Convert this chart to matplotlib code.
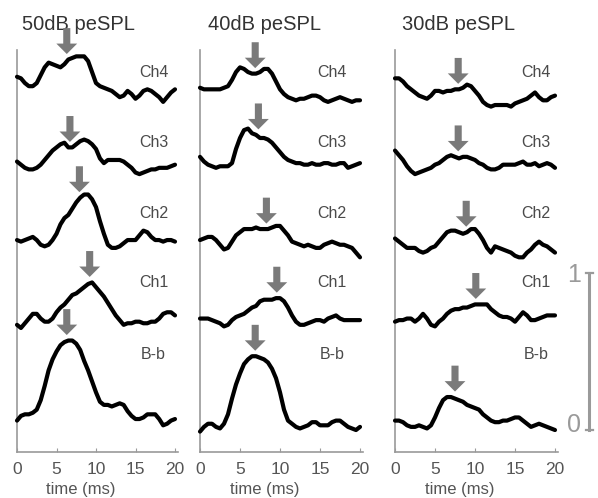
import numpy as np
import matplotlib
matplotlib.use("Agg")
import matplotlib.pyplot as plt

plt.rcParams['font.family'] = ['Liberation Sans', 'DejaVu Sans']

# ---------------- data ----------------
time_ms = np.arange(0, 20.5, 0.5)
panel_titles = ["50dB peSPL", "40dB peSPL", "30dB peSPL"]
channels = ["Ch4", "Ch3", "Ch2", "Ch1", "B-b"]
xticks = [0, 5, 10, 15, 20]
xlabel = "time (ms)"

# normalized amplitudes (scale bar = 1)
p50_ch4 = [0.05,0.04,0.01,-0.01,-0.01,0.01,0.06,0.11,0.14,0.13,0.12,0.11,0.13,0.16,0.17,0.18,0.18,0.18,0.15,0.08,0.01,-0.01,-0.02,-0.03,-0.04,-0.06,-0.08,-0.07,-0.04,-0.06,-0.09,-0.07,-0.04,-0.03,-0.04,-0.06,-0.08,-0.11,-0.08,-0.05,-0.03]
p50_ch3 = [-0.01,-0.03,-0.05,-0.06,-0.06,-0.05,-0.03,0.00,0.03,0.06,0.08,0.10,0.11,0.08,0.08,0.10,0.12,0.13,0.12,0.10,0.07,0.01,-0.02,0.00,0.00,0.00,0.00,-0.01,-0.03,-0.05,-0.08,-0.09,-0.08,-0.07,-0.06,-0.06,-0.05,-0.05,-0.05,-0.04,-0.03]
p50_ch2 = [0.00,-0.01,0.00,0.01,0.02,0.00,-0.03,-0.04,-0.03,0.00,0.04,0.10,0.14,0.16,0.20,0.24,0.27,0.29,0.29,0.26,0.21,0.12,0.04,-0.03,-0.05,-0.05,-0.04,-0.02,0.00,0.00,0.00,0.03,0.06,0.05,0.02,0.00,0.00,-0.01,0.00,0.00,-0.01]
p50_ch1 = [-0.02,-0.04,-0.01,0.02,0.05,0.05,0.02,0.00,0.00,0.02,0.06,0.09,0.11,0.14,0.17,0.18,0.20,0.22,0.24,0.25,0.22,0.19,0.16,0.12,0.08,0.04,0.01,-0.02,-0.01,-0.01,0.00,0.00,-0.01,-0.01,0.00,0.00,0.02,0.05,0.06,0.06,0.04]
p50_bb = [0.03,0.06,0.07,0.07,0.08,0.10,0.16,0.25,0.35,0.42,0.47,0.51,0.53,0.54,0.54,0.52,0.48,0.41,0.35,0.28,0.21,0.15,0.13,0.13,0.12,0.13,0.14,0.13,0.09,0.06,0.04,0.04,0.05,0.07,0.07,0.07,0.04,0.00,0.01,0.03,0.04]

p40_ch4 = [-0.02,-0.03,-0.03,-0.03,-0.03,-0.03,-0.02,-0.01,0.03,0.08,0.11,0.10,0.08,0.07,0.07,0.08,0.10,0.10,0.07,0.02,-0.03,-0.06,-0.08,-0.09,-0.10,-0.09,-0.09,-0.08,-0.07,-0.07,-0.08,-0.10,-0.11,-0.10,-0.09,-0.08,-0.09,-0.10,-0.11,-0.10,-0.10]
p40_ch3 = [0.02,-0.01,-0.03,-0.04,-0.05,-0.04,-0.04,-0.04,-0.02,0.07,0.14,0.19,0.20,0.17,0.16,0.14,0.14,0.13,0.11,0.08,0.05,0.02,0.00,-0.01,-0.02,-0.02,-0.03,-0.03,-0.02,-0.03,-0.03,-0.02,-0.02,-0.03,-0.03,-0.02,-0.02,-0.05,-0.04,-0.03,-0.02]
p40_ch2 = [0.00,0.01,0.02,0.02,0.00,-0.03,-0.06,-0.05,-0.01,0.03,0.05,0.07,0.07,0.07,0.08,0.07,0.07,0.07,0.08,0.09,0.09,0.06,0.03,-0.01,-0.02,-0.03,-0.04,-0.03,-0.04,-0.05,-0.05,-0.03,-0.02,-0.01,-0.02,-0.03,-0.03,-0.04,-0.05,-0.08,-0.11]
p40_ch1 = [0.02,0.02,0.02,0.01,0.00,-0.01,-0.03,-0.02,0.01,0.03,0.04,0.05,0.07,0.09,0.10,0.13,0.14,0.14,0.14,0.15,0.15,0.13,0.09,0.04,0.00,-0.02,-0.02,-0.01,0.00,0.01,0.01,0.00,0.02,0.03,0.04,0.02,0.01,0.01,0.01,0.01,0.01]
p40_bb = [-0.04,-0.01,0.01,0.01,-0.01,-0.02,0.01,0.07,0.17,0.26,0.33,0.39,0.42,0.44,0.44,0.43,0.42,0.40,0.36,0.30,0.21,0.10,0.03,0.01,-0.01,-0.02,-0.01,0.00,0.02,0.02,0.00,0.00,0.00,0.02,0.03,0.03,0.01,-0.01,-0.02,-0.03,-0.01]

p30_ch4 = [0.04,0.04,0.02,-0.01,-0.03,-0.05,-0.07,-0.08,-0.09,-0.07,-0.04,-0.04,-0.05,-0.04,-0.04,-0.03,-0.03,-0.02,0.00,-0.01,-0.04,-0.07,-0.11,-0.13,-0.14,-0.13,-0.13,-0.13,-0.13,-0.14,-0.12,-0.11,-0.10,-0.09,-0.07,-0.05,-0.08,-0.10,-0.10,-0.08,-0.07]
p30_ch3 = [0.06,0.03,0.00,-0.04,-0.07,-0.09,-0.08,-0.07,-0.06,-0.05,-0.03,-0.02,0.00,0.02,0.03,0.02,0.01,0.02,0.02,0.01,0.00,-0.02,-0.03,-0.05,-0.06,-0.06,-0.05,-0.03,-0.03,-0.03,-0.03,-0.02,-0.01,-0.03,-0.03,-0.02,-0.04,-0.03,-0.02,-0.03,-0.05]
p30_ch2 = [0.01,-0.01,-0.03,-0.05,-0.05,-0.05,-0.07,-0.08,-0.07,-0.05,-0.04,-0.01,0.02,0.05,0.06,0.06,0.05,0.04,0.05,0.07,0.07,0.04,0.00,-0.05,-0.08,-0.04,-0.05,-0.06,-0.07,-0.08,-0.10,-0.11,-0.11,-0.08,-0.06,-0.03,-0.01,-0.03,-0.04,-0.06,-0.08]
p30_ch1 = [0.00,0.01,0.01,0.02,0.02,0.00,0.02,0.05,0.02,-0.02,-0.03,0.00,0.02,0.05,0.07,0.08,0.08,0.09,0.09,0.10,0.11,0.11,0.11,0.11,0.08,0.06,0.04,0.03,0.03,0.02,0.00,0.03,0.06,0.04,0.01,0.01,0.02,0.03,0.04,0.04,0.04]
p30_bb = [0.03,0.03,0.02,0.00,-0.01,-0.01,0.00,-0.01,-0.02,0.00,0.05,0.11,0.16,0.18,0.18,0.17,0.16,0.15,0.13,0.12,0.11,0.10,0.07,0.05,0.03,0.02,0.02,0.03,0.03,0.04,0.05,0.05,0.03,0.01,-0.01,0.00,0.01,0.00,-0.01,-0.02,-0.03]

traces = [
    [p50_ch4, p50_ch3, p50_ch2, p50_ch1, p50_bb],
    [p40_ch4, p40_ch3, p40_ch2, p40_ch1, p40_bb],
    [p30_ch4, p30_ch3, p30_ch2, p30_ch1, p30_bb],
]

# peak latencies marked by arrows (ms)
lat50 = [6.3, 6.7, 7.9, 9.2, 6.3]
lat40 = [6.9, 7.3, 8.3, 9.6, 6.9]
lat30 = [7.9, 7.9, 8.9, 10.1, 7.5]
latencies = [lat50, lat40, lat30]

scale_bar_ticks = [0, 1]

# ---------------- layout ----------------
W, H = 598, 498
fig = plt.figure(figsize=(W / 100, H / 100), dpi=100)
fig.patch.set_facecolor('white')

offsets = [2.34, 1.86, 1.35, 0.83, 0.17]       # trace baselines
label_y = [2.42, 1.97, 1.52, 1.08, 0.62]        # channel label heights
label_x = [17.3, 16.5, 17.6]
title_x = [0.6, 1.0, 0.9]
axes_left_px = [17, 200, 395]
px_per_ms = [7.9, 8.0, 8.0]
XMAX = 20.4
YMAX = 402 / 157
ax_bottom = (H - 452) / H
ax_height = 402 / H

gray = '#9a9a9a'
arrow_gray = '#7a7a7a'
text_gray = '#4a4a4a'

axes = []
for p in range(3):
    left = axes_left_px[p] / W
    width = XMAX * px_per_ms[p] / W
    ax = fig.add_axes([left, ax_bottom, width, ax_height])
    axes.append(ax)
    ax.set_xlim(0, XMAX)
    ax.set_ylim(0, YMAX)
    for s in ['top', 'right']:
        ax.spines[s].set_visible(False)
    for s in ['left', 'bottom']:
        ax.spines[s].set_color(gray)
        ax.spines[s].set_linewidth(1.2)
    ax.set_yticks([])
    ax.set_xticks(xticks)
    ax.set_xticklabels([str(v) for v in xticks])
    ax.tick_params(axis='x', direction='in', length=3, color=gray,
                   labelsize=12.5, labelcolor='#555555', pad=7)
    ax.set_xlabel(xlabel, fontsize=12, color='#555555')
    ax.xaxis.set_label_coords(8.1 / XMAX, -0.094)
    ax.xaxis.label.set_va('center')

    ax.text(title_x[p], 2.72, panel_titles[p], fontsize=14.5, color='#333333',
            ha='left', va='center', clip_on=False)

    for c in range(5):
        vals = np.array(traces[p][c])
        y = offsets[c] + vals
        ax.plot(time_ms, y, color='black', lw=3.0, solid_joinstyle='round',
                solid_capstyle='round', clip_on=False, zorder=3)
        ax.text(label_x[p], label_y[c], channels[c], fontsize=11.5,
                color=text_gray, ha='center', va='center')
        # arrow above the peak
        lat = latencies[p][c]
        win = (time_ms >= lat - 0.5) & (time_ms <= lat + 0.5)
        tip = offsets[c] + vals[win].max() + 0.035
        ax.annotate('', xy=(lat, tip), xytext=(lat, tip + 0.165),
                    arrowprops=dict(arrowstyle='simple,head_length=0.5,head_width=1.0,tail_width=0.34',
                                    mutation_scale=15, color=arrow_gray,
                                    shrinkA=0, shrinkB=0, lw=0),
                    annotation_clip=False, zorder=4)

# scale bar (drawn in the 30 dB panel data coordinates)
ax = axes[2]
sb_x = 24.25
sb_base = 0.14
y0 = sb_base + scale_bar_ticks[0]
y1 = sb_base + scale_bar_ticks[1]
ax.plot([sb_x, sb_x], [y0, y1], color=gray, lw=2.2, clip_on=False)
for yy in (y0, y1):
    ax.plot([sb_x - 0.35, sb_x + 0.5], [yy, yy], color=gray, lw=1.6, clip_on=False)
ax.text(23.3, y1 - 0.01, str(scale_bar_ticks[1]), fontsize=18, color=gray,
        ha='right', va='center', clip_on=False)
ax.text(23.3, y0 + 0.03, str(scale_bar_ticks[0]), fontsize=18, color=gray,
        ha='right', va='center', clip_on=False)

fig.savefig('out.png', dpi=100, facecolor='white')
